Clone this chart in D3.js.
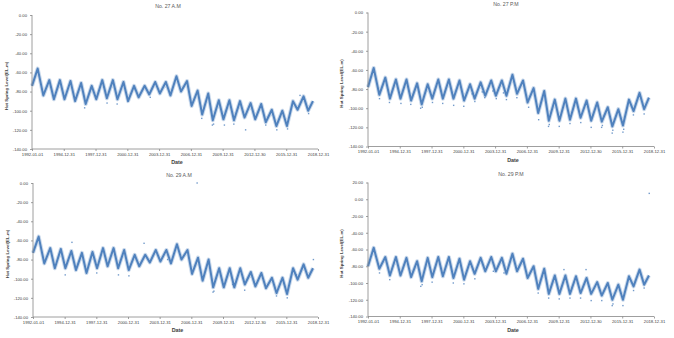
<!DOCTYPE html>
<html>
<head>
<meta charset="utf-8">
<script src="https://cdn.jsdelivr.net/npm/d3@7"></script>
<style>
  body { margin: 0; background: #fff; }
  svg { display: block; }
  text { font-family: "Liberation Sans", Arial, sans-serif; }
</style>
</head>
<body>
<svg id="chart" width="674" height="338"></svg>
<script>
// Dates of the seasonal turning points (start, then summer high / winter low pairs, end)
const cycleDates = [
  "1992-01-01",
  "1992-07-15","1993-01-25",
  "1993-08-20","1994-01-25",
  "1994-08-20","1995-01-25",
  "1995-08-20","1996-01-25",
  "1996-08-20","1997-01-25",
  "1997-08-20","1998-01-25",
  "1998-08-20","1999-01-25",
  "1999-08-20","2000-01-25",
  "2000-08-20","2001-01-25",
  "2001-08-20","2002-01-25",
  "2002-08-20","2003-01-25",
  "2003-08-20","2004-01-25",
  "2004-08-20","2005-01-25",
  "2005-08-20","2006-01-25",
  "2006-08-20","2007-01-25",
  "2007-08-20","2008-01-25",
  "2008-08-20","2009-01-25",
  "2009-08-20","2010-01-25",
  "2010-08-20","2011-01-25",
  "2011-08-20","2012-01-25",
  "2012-08-20","2013-01-25",
  "2013-08-20","2014-01-25",
  "2014-08-20","2015-01-25",
  "2015-08-20","2016-01-25",
  "2016-08-20","2017-01-25",
  "2017-08-20","2018-01-25",
  "2018-07-10"
];

// Hot spring level (EL.m) at each turning point, per well and reading time
const well27AM = [-74,
  -56,-84, -68,-88, -68,-88, -69,-90, -71,-93, -74,-88, -68,-87, -68,-88, -70,-90,
  -74,-86, -74,-83, -70,-82, -70,-84, -64,-80, -69,-95, -79,-104, -82,-110, -89,-109,
  -89,-110, -90,-107, -92,-109, -93,-112, -99,-116, -100,-116, -90,-99, -85,-100,
  -90];
const well27PM = [-78,
  -58,-86, -68,-90, -70,-90, -70,-92, -74,-96, -75,-90, -70,-90, -70,-90, -71,-92,
  -75,-90, -73,-87, -71,-87, -71,-87, -65,-85, -71,-94, -79,-105, -82,-113, -91,-113,
  -90,-112, -90,-110, -92,-113, -94,-114, -99,-119, -101,-118, -91,-103, -84,-101,
  -89];
const well29AM = [-73,
  -56,-84, -68,-89, -69,-89, -71,-91, -73,-94, -72,-89, -68,-87, -68,-89, -70,-91,
  -75,-87, -75,-83, -70,-82, -70,-84, -64,-80, -70,-95, -78,-102, -80,-109, -89,-109,
  -89,-109, -89,-106, -93,-108, -94,-110, -99,-115, -99,-116, -89,-101, -85,-99,
  -89];
const well29PM = [-80,
  -58,-83, -69,-91, -69,-91, -70,-93, -74,-98, -70,-93, -69,-92, -69,-94, -71,-96,
  -74,-89, -70,-86, -69,-86, -70,-89, -65,-86, -71,-94, -80,-107, -83,-113, -91,-113,
  -91,-113, -92,-112, -94,-113, -99,-115, -100,-120, -102,-120, -92,-104, -84,-102,
  -91];

// Readings that sit apart from the main seasonal band
const strays27AM = [
  ["1996-12-20",-97],["1999-02-01",-92],["2000-01-15",-93],["2001-10-01",-78],
  ["2003-03-01",-86],["2008-01-10",-108],["2009-01-10",-115],["2009-02-20",-114],
  ["2010-03-01",-115],["2011-01-20",-114],["2012-03-01",-120],["2014-01-25",-115],
  ["2015-02-10",-120],["2016-02-15",-119],["2017-04-20",-84],["2018-02-10",-103]
];
const strays27PM = [
  ["1993-02-01",-90],["1994-01-10",-94],["1995-02-10",-95],["1996-01-15",-96],
  ["1996-12-20",-100],["1997-02-15",-99],["1998-02-01",-94],["1999-01-20",-95],
  ["2000-02-01",-97],["2001-01-15",-98],["2002-02-01",-93],["2003-01-10",-89],
  ["2004-02-10",-90],["2005-01-25",-91],["2006-01-20",-89],["2007-03-01",-99],
  ["2008-02-10",-112],["2009-01-15",-119],["2009-02-10",-117],["2010-01-20",-119],
  ["2011-01-25",-116],["2012-02-01",-115],["2013-01-25",-120],["2014-01-20",-120],
  ["2014-02-15",-118],["2015-01-20",-126],["2015-02-10",-123],["2016-01-25",-125],
  ["2016-02-20",-122],["2017-01-20",-107],["2018-01-25",-106],["2001-11-01",-85],
  ["2002-10-15",-83],["2003-10-20",-82],["2004-10-15",-84]
];
const strays29AM = [
  ["2007-07-20",0],["1995-09-10",-62],["2002-07-10",-63],["1995-01-20",-96],
  ["1998-01-15",-94],["2000-02-05",-96],["2001-02-01",-97],["2004-10-01",-80],
  ["2009-01-20",-114],["2009-02-20",-113],["2010-12-01",-106],["2012-01-20",-112],
  ["2015-01-25",-118],["2016-02-01",-120],["2016-12-10",-96],["2018-07-25",-80]
];
const strays29PM = [
  ["2018-07-20",7],["2010-07-01",-84],["2012-08-01",-84],["1993-02-01",-88],
  ["1994-01-20",-96],["1996-12-25",-104],["1997-02-10",-102],["1998-01-20",-99],
  ["2000-01-20",-100],["2001-01-20",-101],["2002-02-01",-95],["2003-11-01",-86],
  ["2004-11-01",-88],["2008-01-25",-112],["2009-01-20",-118],["2010-01-20",-119],
  ["2011-01-25",-118],["2012-01-25",-118],["2013-01-25",-121],["2014-01-25",-121],
  ["2015-01-20",-127],["2015-02-15",-125],["2016-01-25",-127],["2017-01-25",-109],
  ["2018-01-25",-106]
];

const panelTitles = ["No. 27 A.M", "No. 27 P.M", "No. 29 A.M", "No. 29 P.M"];
const dateTickLabels = ["1992-01-01","1994-12-31","1997-12-31","2000-12-31","2003-12-31",
  "2006-12-31","2009-12-31","2012-12-30","2015-12-31","2018-12-31"];
const levelTicks = [0, -20, -40, -60, -80, -100, -120, -140];
const levelTicksWide = [20, 0, -20, -40, -60, -80, -100, -120, -140];
const xAxisTitle = "Date";
const yAxisTitle = "Hot Spring Level(EL.m)";

const parse = d3.timeParse("%Y-%m-%d");
const svg = d3.select("#chart");
svg.append("rect").attr("width", 674).attr("height", 338).attr("fill", "#fff");

const BLUE = "#4f81bd";
const AXIS = "#868686";
const LABEL = "#404040";

const panels = [
  { title: panelTitles[0], values: well27AM, strays: strays27AM, ticks: levelTicks,
    left: 32, right: 318, top: 15, bottom: 149, titleX: 168, titleY: 8, yTitleX: 8 },
  { title: panelTitles[1], values: well27PM, strays: strays27PM, ticks: levelTicks,
    left: 368, right: 654, top: 12.5, bottom: 146.5, titleX: 506, titleY: 6, yTitleX: 343 },
  { title: panelTitles[2], values: well29AM, strays: strays29AM, ticks: levelTicks,
    left: 33, right: 318, top: 183, bottom: 317, titleX: 179, titleY: 177, yTitleX: 9 },
  { title: panelTitles[3], values: well29PM, strays: strays29PM, ticks: levelTicksWide,
    left: 368, right: 654, top: 182.5, bottom: 316.5, titleX: 511, titleY: 176, yTitleX: 343 }
];

const tickDates = dateTickLabels.map(parse);
const fmtDate = d3.timeFormat("%Y-%m-%d");

panels.forEach(p => {
  const g = svg.append("g");
  const x = d3.scaleTime()
    .domain([parse("1992-01-01"), parse("2018-12-31")])
    .range([p.left, p.right]);
  const y = d3.scaleLinear()
    .domain([d3.min(p.ticks), d3.max(p.ticks)])
    .range([p.bottom, p.top]);

  const series = cycleDates.map((d, i) => ({ date: parse(d), value: p.values[i] }));
  const line = d3.line().x(d => x(d.date)).y(d => y(d.value)).curve(d3.curveLinear);

  // soft halo of the dense daily markers, then the core band
  g.append("path").datum(series).attr("d", line)
    .attr("fill", "none").attr("stroke", BLUE).attr("stroke-width", 4)
    .attr("stroke-opacity", 0.3).attr("stroke-linejoin", "round");
  g.append("path").datum(series).attr("d", line)
    .attr("fill", "none").attr("stroke", BLUE).attr("stroke-width", 2)
    .attr("stroke-linejoin", "round");

  g.selectAll("rect.stray").data(p.strays).join("rect")
    .attr("class", "stray")
    .attr("x", d => x(parse(d[0])) - 0.7)
    .attr("y", d => y(d[1]) - 0.7)
    .attr("width", 1.4).attr("height", 1.4)
    .attr("fill", BLUE).attr("fill-opacity", 0.8);

  // axes
  const yAxis = d3.axisLeft(y).tickValues(p.ticks).tickFormat(d => d.toFixed(2))
    .tickSize(2).tickPadding(3);
  const ya = g.append("g").attr("transform", `translate(${p.left},0)`).call(yAxis);
  const xAxis = d3.axisBottom(x).tickValues(tickDates).tickFormat(fmtDate)
    .tickSize(2).tickPadding(2);
  const xa = g.append("g").attr("transform", `translate(0,${p.bottom})`).call(xAxis);
  [ya, xa].forEach(a => {
    a.select(".domain").attr("stroke", AXIS).attr("stroke-width", 0.8);
    a.selectAll(".tick line").attr("stroke", AXIS).attr("stroke-width", 0.8);
    a.selectAll(".tick text").attr("fill", LABEL).attr("font-size", 4.2)
      .attr("font-family", "'Liberation Sans', Arial, sans-serif");
  });
  ya.select(".domain").attr("d", `M0,${p.top}V${p.bottom}`);
  xa.select(".domain").attr("d", `M${p.left},0H${p.right}`);

  g.append("text").attr("x", p.titleX).attr("y", p.titleY)
    .attr("text-anchor", "middle").attr("font-size", 5.2).attr("fill", "#595959")
    .text(p.title);
  g.append("text").attr("x", (p.left + p.right) / 2 + 2).attr("y", p.bottom + 15)
    .attr("text-anchor", "middle").attr("font-size", 5.4).attr("font-weight", "bold")
    .attr("fill", LABEL).text(xAxisTitle);
  const cy = (p.top + p.bottom) / 2 + 4;
  g.append("text").attr("transform", `translate(${p.yTitleX},${cy}) rotate(-90)`)
    .attr("text-anchor", "middle").attr("font-size", 4.4).attr("font-weight", "bold")
    .attr("fill", LABEL).text(yAxisTitle);
});
</script>
</body>
</html>
